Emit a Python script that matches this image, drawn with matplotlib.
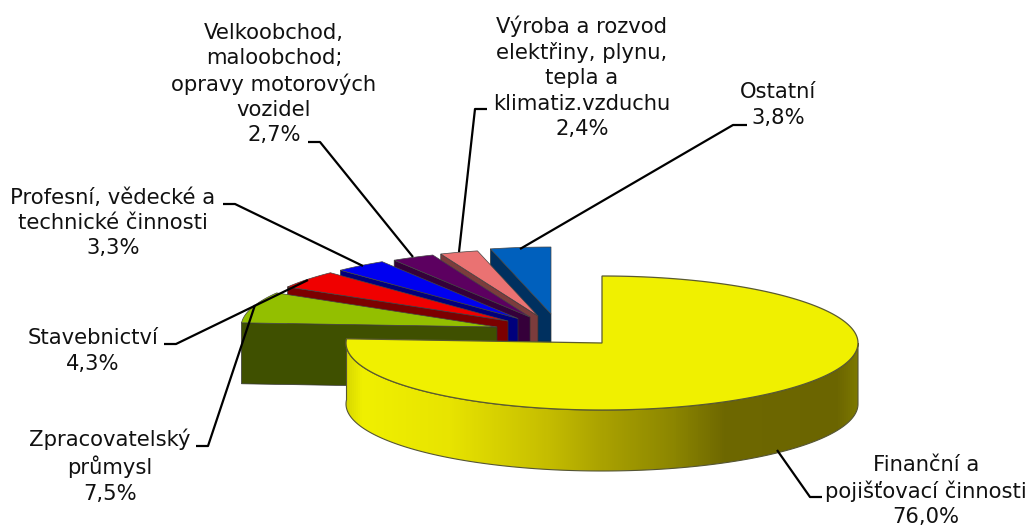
import numpy as np
import matplotlib
matplotlib.use('Agg')
import matplotlib.pyplot as plt
from matplotlib.colors import LinearSegmentedColormap
from matplotlib.patches import Polygon

plt.rcParams['font.family'] = ['DejaVu Sans']

# data, clockwise from 12 o'clock
labels = ['Finanční a\npojišťovací činnosti\n76,0%',
          'Zpracovatelský\nprůmysl\n7,5%',
          'Stavebnictví\n4,3%',
          'Profesní, vědecké a\ntechnické činnosti\n3,3%',
          'Velkoobchod,\nmaloobchod;\nopravy motorových\nvozidel\n2,7%',
          'Výroba a rozvod\nelektřiny, plynu,\ntepla a\nklimatiz.vzduchu\n2,4%',
          'Ostatní\n3,8%']
values = [76.0, 7.5, 4.3, 3.3, 2.7, 2.4, 3.8]

# layout in image pixels
top_colors = ['#f0f000', '#93bf00', '#f00000', '#0000f0', '#5c0060', '#ea7272', '#0060bd']
side_colors = ['#6b6500', '#3f5000', '#7c0000', '#00007c', '#35003a', '#7c3c3c', '#00305f']
cx, cy = 602, 343
rx, ry = 256, 67
depth = 61
offs_x = [0, -105, -94, -84, -72, -64, -51]
offs_y = [0, -16, -22, -24.5, -26, -27, -29]
label_x = [926, 110, 93, 113, 274, 582, 778]
label_y = [491, 466, 351, 223, 84, 77, 105]
leaders = [[(777, 450), (810, 497), (822, 497)],
           [(255, 305), (208, 446), (196, 446)],
           [(308, 280), (176, 344), (164, 344)],
           [(363, 266), (235, 204), (223, 204)],
           [(413, 257), (320, 142), (308, 142)],
           [(459, 252), (475, 109), (487, 109)],
           [(520, 249), (733, 125), (747, 125)]]

fig = plt.figure(figsize=(10.33, 5.26), dpi=100)
ax = fig.add_axes([0, 0, 1, 1])
ax.set_xlim(0, 1033)
ax.set_ylim(526, 0)
ax.axis('off')

edges = np.radians(np.concatenate([[0], np.cumsum(values)]) * 3.6)


def rim(x0, y0, a0, a1):
    t = np.linspace(a0, a1, 200)
    return np.column_stack([x0 + rx * np.sin(t), y0 - ry * np.cos(t)])


def radial_wall(x0, y0, a):
    px, py = x0 + rx * np.sin(a), y0 - ry * np.cos(a)
    return [(x0, y0), (px, py), (px, py + depth), (x0, y0 + depth)]


wall_cmap = LinearSegmentedColormap.from_list('wall', [
    (0.0, '#d8d800'), (0.03, '#f0f000'), (0.2, '#e8e400'), (0.38, '#c8c000'),
    (0.51, '#a8a000'), (0.64, '#8c8600'), (0.74, '#6e6800'), (0.96, '#6b6500'),
    (1.0, '#7c7800')])

# back slices first, the big one last
for i in range(len(values) - 1, -1, -1):
    x0, y0 = cx + offs_x[i], cy + offs_y[i]
    a0, a1 = edges[i], edges[i + 1]
    if i > 0:
        ax.add_patch(Polygon(radial_wall(x0, y0, a0), fc=side_colors[i], ec='#333333', lw=0.5, zorder=10 - i))
        ax.add_patch(Polygon(rim(x0, y0, a0, a1).tolist() + [(x0, y0)], fc=top_colors[i], ec='#444444',
                             lw=0.5, zorder=10 - i))
    else:
        # outer wall of yellow slice, front half only
        top = rim(x0, y0, np.pi / 2, a1)
        wall = np.vstack([top, top[::-1] + [0, depth]])
        wall_patch = Polygon(wall, fc='none', ec='none', zorder=20)
        ax.add_patch(wall_patch)
        im = ax.imshow(np.linspace(0, 1, 512).reshape(1, -1), cmap=wall_cmap, aspect='auto',
                       extent=(x0 - rx, x0 + rx, 526, 0), zorder=20)
        im.set_clip_path(wall_patch)
        ax.add_patch(Polygon(wall, fc='none', ec='#555533', lw=0.8, zorder=21))
        ax.add_patch(Polygon(rim(x0, y0, a0, a1).tolist() + [(x0, y0)], fc=top_colors[i], ec='#5a5a30',
                             lw=0.9, zorder=22))
ax.set_xlim(0, 1033)
ax.set_ylim(526, 0)

for i, path in enumerate(leaders):
    xs, ys = zip(*path)
    ax.plot(xs, ys, color='black', lw=1.6, zorder=30, solid_capstyle='butt')

for i, lab in enumerate(labels):
    ax.text(label_x[i], label_y[i], lab, ha='center', va='center', fontsize=15.2, color='#111111',
            linespacing=1.32, zorder=31)

fig.savefig('out.png', dpi=100)
